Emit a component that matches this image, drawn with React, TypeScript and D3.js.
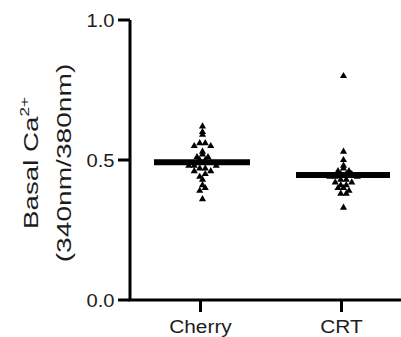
import React from "react";
import * as d3 from "d3";

const categories = ["Cherry", "CRT"];
const cherryValues = [0.62, 0.6, 0.59, 0.56, 0.56, 0.55, 0.55, 0.53, 0.52, 0.51, 0.51, 0.5, 0.5, 0.49, 0.49, 0.49, 0.48, 0.48, 0.48, 0.47, 0.47, 0.46, 0.46, 0.45, 0.44, 0.43, 0.41, 0.4, 0.39, 0.36];
const crtValues = [0.8, 0.53, 0.5, 0.48, 0.47, 0.46, 0.46, 0.45, 0.45, 0.45, 0.44, 0.44, 0.44, 0.43, 0.43, 0.42, 0.42, 0.41, 0.41, 0.4, 0.4, 0.39, 0.38, 0.38, 0.33];
const yTicks = [0, 0.5, 1.0];
const yTickLabels = ["0.0", "0.5", "1.0"];

const W = 401;
const H = 337;
const FONT = "'Liberation Sans', Arial, sans-serif";
const INK = "#1c1c1c";

const y = d3.scaleLinear().domain([0, 1]).range([300, 20]);
const x = d3.scalePoint<string>().domain(categories).range([130, 412]).padding(0.5);

function swarm(values: number[], rowH: number, dx: number) {
  const sorted = [...values].sort((a, b) => b - a);
  const rows = d3.groups(sorted, (v) => Math.round(y(v) / rowH));
  const out: { v: number; off: number }[] = [];
  rows.forEach(([, vs]) => {
    const k = vs.length;
    vs.forEach((v, i) => {
      const rank = i === 0 ? 0 : Math.ceil(i / 2) * (i % 2 === 1 ? -1 : 1);
      const shift = k % 2 === 0 ? dx / 2 : 0;
      out.push({ v, off: rank * dx + shift });
    });
  });
  return out;
}

const tri = d3.symbol().type(d3.symbolTriangle).size(22)() as string;

export default function App() {
  const groups = [
    { name: categories[0], values: cherryValues, half: 48 },
    { name: categories[1], values: crtValues, half: 47 },
  ];
  return (
    <svg width={W} height={H} style={{ position: "absolute", left: 0, top: 0, background: "#fff" }}>
      <line x1={130} x2={130} y1={y(1)} y2={y(0)} stroke="#000" strokeWidth={3} />
      {yTicks.map((t, i) => (
        <g key={t}>
          <line x1={118} x2={130} y1={y(t)} y2={y(t)} stroke="#000" strokeWidth={3} />
          <g transform={`translate(114.5, ${y(t) + 6.5})`}>
            <text textAnchor="end" transform="scale(1.12,1)" fontFamily={FONT} fontSize={18} fill={INK}>
              {yTickLabels[i]}
            </text>
          </g>
        </g>
      ))}
      <line x1={128.5} x2={W} y1={y(0)} y2={y(0)} stroke="#000" strokeWidth={3} />
      {categories.map((c) => (
        <g key={c}>
          <line x1={x(c)} x2={x(c)} y1={y(0)} y2={y(0) + 12} stroke="#000" strokeWidth={3} />
          <g transform={`translate(${x(c)}, 333)`}>
            <text textAnchor="middle" transform="scale(1.16,1)" fontFamily={FONT} fontSize={18} fill={INK}>
              {c}
            </text>
          </g>
        </g>
      ))}
      {groups.map((g) => {
        const cx = x(g.name) as number;
        const pts = swarm(g.values, 5, 5.5);
        const mean = d3.mean(g.values) as number;
        return (
          <g key={g.name}>
            {pts.map((p, i) => (
              <path key={i} d={tri} transform={`translate(${cx + 2 + p.off}, ${y(p.v)})`} fill="#000" />
            ))}
            <line x1={cx + 1.5 - g.half} x2={cx + 1.5 + g.half} y1={y(mean)} y2={y(mean)} stroke="#000" strokeWidth={6} />
          </g>
        );
      })}
      <g transform="translate(38, 163) rotate(-90) scale(1.32,1)">
        <text textAnchor="middle" fontFamily={FONT} fontSize={21} fill={INK}>
          Basal Ca
          <tspan fontSize={13} dy={-9}>2+</tspan>
        </text>
      </g>
      <g transform="translate(71, 163) rotate(-90) scale(1.34,1)">
        <text textAnchor="middle" fontFamily={FONT} fontSize={21} fill={INK}>
          (340nm/380nm)
        </text>
      </g>
    </svg>
  );
}
